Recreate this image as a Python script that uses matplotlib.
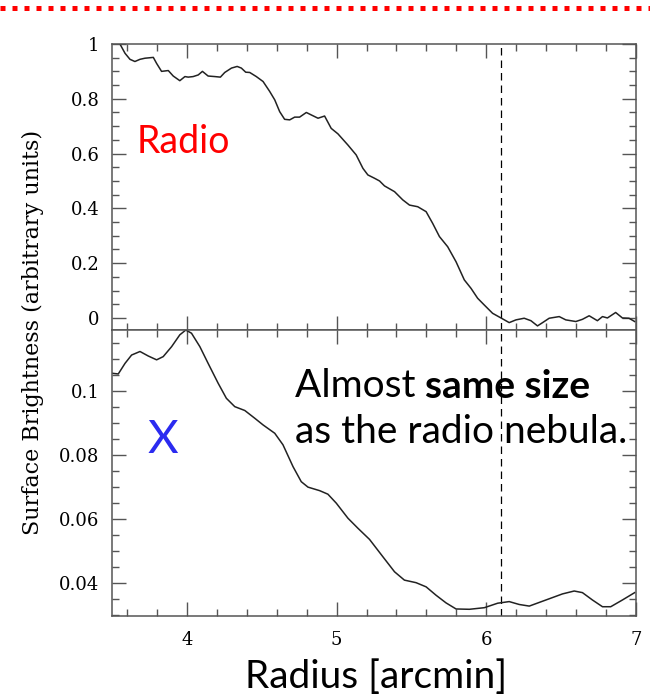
import matplotlib.pyplot as plt
import numpy as np
from matplotlib.lines import Line2D
from matplotlib.ticker import MultipleLocator, FormatStrFormatter

# radio profile (top panel)
radio_r = [3.50, 3.553, 3.587, 3.62, 3.653, 3.687, 3.72, 3.776, 3.798, 3.831, 3.876,
           3.909, 3.953, 3.987, 4.009, 4.042, 4.076, 4.104, 4.142, 4.187, 4.224,
           4.253, 4.298, 4.336, 4.364, 4.393, 4.42, 4.464, 4.509, 4.553, 4.587,
           4.62, 4.653, 4.687, 4.72, 4.753, 4.798, 4.831, 4.876, 4.92, 4.964,
           5.009, 5.076, 5.131, 5.176, 5.209, 5.253, 5.287, 5.32, 5.387, 5.442,
           5.487, 5.542, 5.598, 5.642, 5.687, 5.742, 5.798, 5.853, 5.898, 5.942,
           5.987, 6.042, 6.098, 6.153, 6.198, 6.253, 6.298, 6.342, 6.376, 6.42,
           6.487, 6.531, 6.598, 6.642, 6.687, 6.742, 6.776, 6.809, 6.864, 6.909,
           6.953, 6.991]
radio_sb = [1.06, 1.0, 0.966, 0.944, 0.936, 0.944, 0.948, 0.951, 0.929, 0.90, 0.903,
            0.883, 0.866, 0.881, 0.879, 0.881, 0.887, 0.90, 0.883, 0.881, 0.879,
            0.896, 0.912, 0.918, 0.912, 0.897, 0.896, 0.881, 0.863, 0.827, 0.796,
            0.753, 0.725, 0.723, 0.733, 0.733, 0.75, 0.741, 0.729, 0.737, 0.692,
            0.672, 0.631, 0.595, 0.546, 0.522, 0.51, 0.50, 0.482, 0.461, 0.431,
            0.412, 0.406, 0.388, 0.345, 0.297, 0.26, 0.205, 0.139, 0.108, 0.072,
            0.047, 0.017, 0.0, -0.017, -0.007, -0.001, -0.01, -0.029, -0.017, -0.001,
            0.005, -0.007, -0.013, -0.005, 0.008, -0.01, 0.005, 0.0, 0.02, 0.0,
            -0.001, -0.013]

# X-ray profile (bottom panel)
xray_r = [3.502, 3.542, 3.587, 3.631, 3.687, 3.742, 3.798, 3.842, 3.898, 3.953,
          3.993, 4.031, 4.087, 4.142, 4.209, 4.264, 4.32, 4.387, 4.453, 4.509,
          4.587, 4.642, 4.709, 4.764, 4.809, 4.887, 4.942, 4.998, 5.076, 5.142,
          5.22, 5.309, 5.387, 5.453, 5.531, 5.598, 5.664, 5.731, 5.798, 5.887,
          5.987, 6.076, 6.153, 6.22, 6.287, 6.398, 6.509, 6.587, 6.642, 6.709,
          6.776, 6.831, 6.909, 6.991]
xray_sb = [0.1055, 0.1053, 0.1086, 0.1112, 0.1123, 0.1109, 0.1097, 0.1107, 0.1138, 0.1175,
           0.119, 0.118, 0.1138, 0.1086, 0.1024, 0.0977, 0.0951, 0.0939, 0.0915, 0.0894,
           0.0868, 0.0832, 0.0764, 0.0717, 0.0700, 0.0689, 0.0678, 0.0650, 0.0603, 0.0572,
           0.0537, 0.0483, 0.0436, 0.0410, 0.0402, 0.0389, 0.0363, 0.0339, 0.0320, 0.0319,
           0.0324, 0.0338, 0.0343, 0.0334, 0.0329, 0.0348, 0.0367, 0.0376, 0.0371, 0.0348,
           0.0327, 0.0327, 0.0348, 0.0371]

r_edge = 6.1  # radio nebula edge

plt.rcParams["font.family"] = "DejaVu Serif"
sans = ["Lato", "DejaVu Sans"]
frame_col = "#555555"

fig = plt.figure(figsize=(6.5, 6.98), dpi=100)
ax1 = fig.add_axes([0.1723, 0.5272, 0.8062, 0.4098])
ax2 = fig.add_axes([0.1723, 0.1179, 0.8062, 0.4093])

for ax in (ax1, ax2):
    ax.set_xlim(3.5, 7)
    ax.xaxis.set_major_locator(MultipleLocator(1))
    ax.xaxis.set_minor_locator(MultipleLocator(0.2))
    ax.tick_params(which="both", direction="in", top=True, right=True,
                   color=frame_col, width=1.0, labelsize=13)
    ax.tick_params(which="major", length=10, pad=9)
    ax.tick_params(which="minor", length=5)
    for s in ax.spines.values():
        s.set_color(frame_col)
        s.set_linewidth(1.1)
    ax.axvline(r_edge, color="black", lw=0.9, ls=(0, (6, 4)))

ax1.plot(radio_r, radio_sb, color="#222222", lw=1.1)
ax1.set_ylim(-0.044, 1.0)
ax1.yaxis.set_major_locator(MultipleLocator(0.2))
ax1.yaxis.set_minor_locator(MultipleLocator(0.05))
ax1.yaxis.set_major_formatter(FormatStrFormatter("%g"))
ax1.tick_params(labelbottom=False)

ax2.plot(xray_r, xray_sb, color="#222222", lw=1.1)
ax2.set_ylim(0.0299, 0.119)
ax2.yaxis.set_major_locator(MultipleLocator(0.02))
ax2.yaxis.set_minor_locator(MultipleLocator(0.005))
ax2.yaxis.set_major_formatter(FormatStrFormatter("%g"))
ax2.tick_params(axis="x", which="major", pad=11)

ax1.text(3.667, 0.602, "Radio", color="red", fontsize=27, family=sans, va="baseline")
ax2.text(3.74, 0.0807, "X", color="#2b2bf0", fontsize=34, family=sans, va="baseline")

t1 = ax2.text(4.72, 0.0981, "Almost ", fontsize=28, family=sans, va="baseline")
ax2.annotate("same size", xy=(1, 0), xycoords=t1, va="bottom", ha="left",
             fontsize=28, family=sans, fontweight="bold")
ax2.text(4.72, 0.0838, "as the radio nebula.", fontsize=28, family=sans, va="baseline")

fig.text(376 / 650, 1 - 688 / 698, "Radius [arcmin]", fontsize=28, family=sans,
         ha="center", va="baseline")
fig.text(33 / 650, 1 - 332 / 698, "Surface Brightness (arbitrary units)",
         fontsize=16, rotation=90, ha="center", va="center")

fig.add_artist(Line2D([0, 1], [1 - 8 / 698] * 2, transform=fig.transFigure,
                      color="red", lw=3.6, ls=(0, (1, 1.4)), solid_capstyle="butt",
                      dash_capstyle="butt"))

fig.savefig("out.png", dpi=100)
